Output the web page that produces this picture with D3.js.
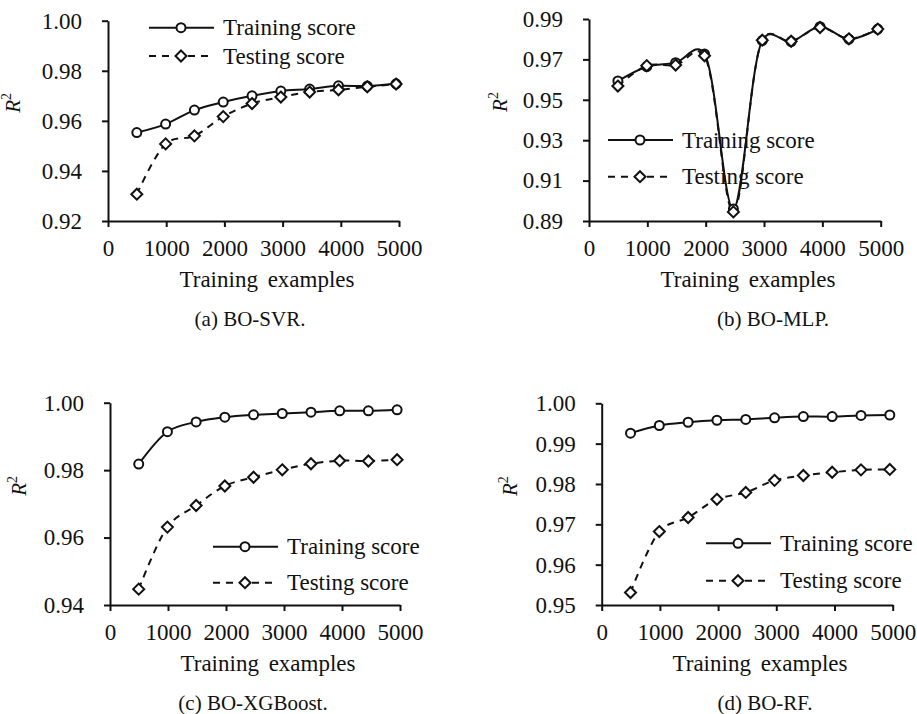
<!DOCTYPE html>
<html>
<head>
<meta charset="utf-8">
<script src="https://cdn.jsdelivr.net/npm/d3@7"></script>
<style>
  body { margin: 0; background: #fff; }
</style>
</head>
<body>
<svg id="chart" width="917" height="714"></svg>
<script>
// training set sizes (x values) shared by all four panels
const trainSizes = [495, 990, 1485, 1980, 2475, 2970, 3465, 3960, 4455, 4950];
const xTicks = [0, 1000, 2000, 3000, 4000, 5000];

const svrTrain = [0.9553, 0.9587, 0.9643, 0.9675, 0.9700, 0.9719, 0.9727, 0.9740, 0.9739, 0.9748];
const svrTest  = [0.9307, 0.9508, 0.9540, 0.9617, 0.9669, 0.9695, 0.9715, 0.9724, 0.9736, 0.9747];

const mlpTrain = [0.9593, 0.9664, 0.9684, 0.9727, 0.8960, 0.9793, 0.9788, 0.9862, 0.9800, 0.9850];
const mlpTest  = [0.9568, 0.9669, 0.9672, 0.9718, 0.8945, 0.9795, 0.9790, 0.9858, 0.9802, 0.9850];

const xgbTrain = [0.9818, 0.9914, 0.9943, 0.9957, 0.9964, 0.9968, 0.9972, 0.9976, 0.9976, 0.9979];
const xgbTest  = [0.9447, 0.9631, 0.9695, 0.9753, 0.9779, 0.9801, 0.9819, 0.9828, 0.9827, 0.9831];

const rfTrain = [0.9926, 0.9945, 0.9953, 0.9958, 0.9960, 0.9964, 0.9967, 0.9967, 0.9970, 0.9971];
const rfTest  = [0.9531, 0.9682, 0.9717, 0.9762, 0.9779, 0.9809, 0.9821, 0.9829, 0.9835, 0.9836];

const svrTicks = [0.92, 0.94, 0.96, 0.98, 1.00];
const mlpTicks = [0.89, 0.91, 0.93, 0.95, 0.97, 0.99];
const xgbTicks = [0.94, 0.96, 0.98, 1.00];
const rfTicks  = [0.95, 0.96, 0.97, 0.98, 0.99, 1.00];

const captions = ["(a) BO-SVR.", "(b) BO-MLP.", "(c) BO-XGBoost.", "(d) BO-RF."];
const seriesNames = ["Training score", "Testing score"];

// panel geometry (plot area + where legend / labels sit)
const panels = [
    { train: svrTrain, test: svrTest, ticks: svrTicks, x0: 108, x1: 399, yTop: 20.7, yBot: 221,
      legX: 149, legY: 27.7, legGap: 28.3, capX: 250, capY: 326, titleX: 267, rX: 20 },
    { train: mlpTrain, test: mlpTest, ticks: mlpTicks, x0: 589, x1: 880.7, yTop: 19, yBot: 221,
      legX: 608, legY: 140, legGap: 36.7, capX: 773, capY: 326, titleX: 748, rX: 507 },
    { train: xgbTrain, test: xgbTest, ticks: xgbTicks, x0: 110, x1: 400, yTop: 402.7, yBot: 605,
      legX: 213, legY: 546.7, legGap: 36, capX: 253, capY: 710, titleX: 268, rX: 26 },
    { train: rfTrain, test: rfTest, ticks: rfTicks, x0: 601.7, x1: 892.7, yTop: 403.3, yBot: 605,
      legX: 706, legY: 543.3, legGap: 37.4, capX: 765, capY: 710, titleX: 760, rX: 517 }
];

const svg = d3.select("#chart");
const ink = "#111";
const serif = "Liberation Serif";
const diamond = "M0,-5.5L5.5,0L0,5.5L-5.5,0Z";

panels.forEach(function(p, i) {
    let g = svg.append("g");
    let ticks = p.ticks;

    let x = d3.scaleLinear().domain([0, 5000]).range([p.x0, p.x1]);
    let y = d3.scaleLinear().domain([ticks[0], ticks[ticks.length - 1]]).range([p.yBot, p.yTop]);

    let xAxis = g.append("g")
        .attr("transform", "translate(0," + p.yBot + ")")
        .call(d3.axisBottom(x).tickValues(xTicks).tickSize(6).tickSizeOuter(0).tickPadding(13)
            .tickFormat(d3.format("d")));
    let yAxis = g.append("g")
        .attr("transform", "translate(" + p.x0 + ",0)")
        .call(d3.axisLeft(y).tickValues(ticks).tickSize(6).tickSizeOuter(0).tickPadding(20)
            .tickFormat(d3.format(".2f")));

    [xAxis, yAxis].forEach(function(a) {
        a.select(".domain").attr("stroke", ink).attr("stroke-width", 2);
        a.selectAll(".tick line").attr("stroke", ink).attr("stroke-width", 2);
        a.selectAll(".tick text").attr("fill", ink)
            .attr("font-family", serif).attr("font-size", 23);
    });

    // axis titles and caption
    g.append("text")
        .attr("x", p.titleX).attr("y", p.yBot + 66)
        .attr("text-anchor", "middle")
        .attr("font-family", serif).attr("font-size", 23)
        .attr("word-spacing", 4)
        .attr("fill", ink)
        .text("Training examples");

    let rLab = g.append("text")
        .attr("transform", "translate(" + p.rX + "," + ((p.yTop + p.yBot) / 2 - 18) + ") rotate(-90)")
        .attr("text-anchor", "middle")
        .attr("fill", ink)
        .attr("font-family", serif).attr("font-size", 21);
    rLab.append("tspan").attr("font-style", "italic").text("R");
    rLab.append("tspan").attr("dy", -9).attr("font-size", 14).text("2");

    g.append("text")
        .attr("x", p.capX).attr("y", p.capY)
        .attr("text-anchor", "middle")
        .attr("font-family", serif).attr("font-size", 21)
        .attr("fill", ink)
        .text(captions[i]);

    // legend
    let leg = g.append("g");
    seriesNames.forEach(function(name, k) {
        let ly = p.legY + k * p.legGap;
        leg.append("line")
            .attr("x1", p.legX).attr("x2", p.legX + 65)
            .attr("y1", ly).attr("y2", ly)
            .attr("stroke", ink).attr("stroke-width", 2)
            .attr("stroke-dasharray", k === 1 ? "7,6" : null);
        if (k === 0) {
            leg.append("circle").attr("cx", p.legX + 32).attr("cy", ly).attr("r", 4.5)
                .attr("fill", "#fff").attr("stroke", ink).attr("stroke-width", 2);
        } else {
            leg.append("path").attr("d", diamond)
                .attr("transform", "translate(" + (p.legX + 32) + "," + ly + ")")
                .attr("fill", "#fff").attr("stroke", ink).attr("stroke-width", 2);
        }
        leg.append("text")
            .attr("x", p.legX + 74).attr("y", ly + 7.5)
            .attr("font-family", serif).attr("font-size", 23)
            .attr("fill", ink)
            .text(name);
    });

    // series lines (smoothed like the original spreadsheet chart)
    let line = d3.line()
        .x(function(d, j) { return x(trainSizes[j]); })
        .y(function(d) { return y(d); })
        .curve(d3.curveCatmullRom.alpha(0.2));

    g.append("path").datum(p.train)
        .attr("d", line).attr("fill", "none")
        .attr("stroke", ink).attr("stroke-width", 2);
    g.append("path").datum(p.test)
        .attr("d", line).attr("fill", "none")
        .attr("stroke", ink).attr("stroke-width", 2)
        .attr("stroke-dasharray", "7,6");

    g.selectAll(".mk-train").data(p.train).enter()
        .append("circle").attr("class", "mk-train")
        .attr("cx", function(d, j) { return x(trainSizes[j]); })
        .attr("cy", function(d) { return y(d); })
        .attr("r", 4.5)
        .attr("fill", "#fff").attr("stroke", ink).attr("stroke-width", 2);

    g.selectAll(".mk-test").data(p.test).enter()
        .append("path").attr("class", "mk-test")
        .attr("d", diamond)
        .attr("transform", function(d, j) { return "translate(" + x(trainSizes[j]) + "," + y(d) + ")"; })
        .attr("fill", "#fff").attr("stroke", ink).attr("stroke-width", 2);
});
</script>
</body>
</html>
